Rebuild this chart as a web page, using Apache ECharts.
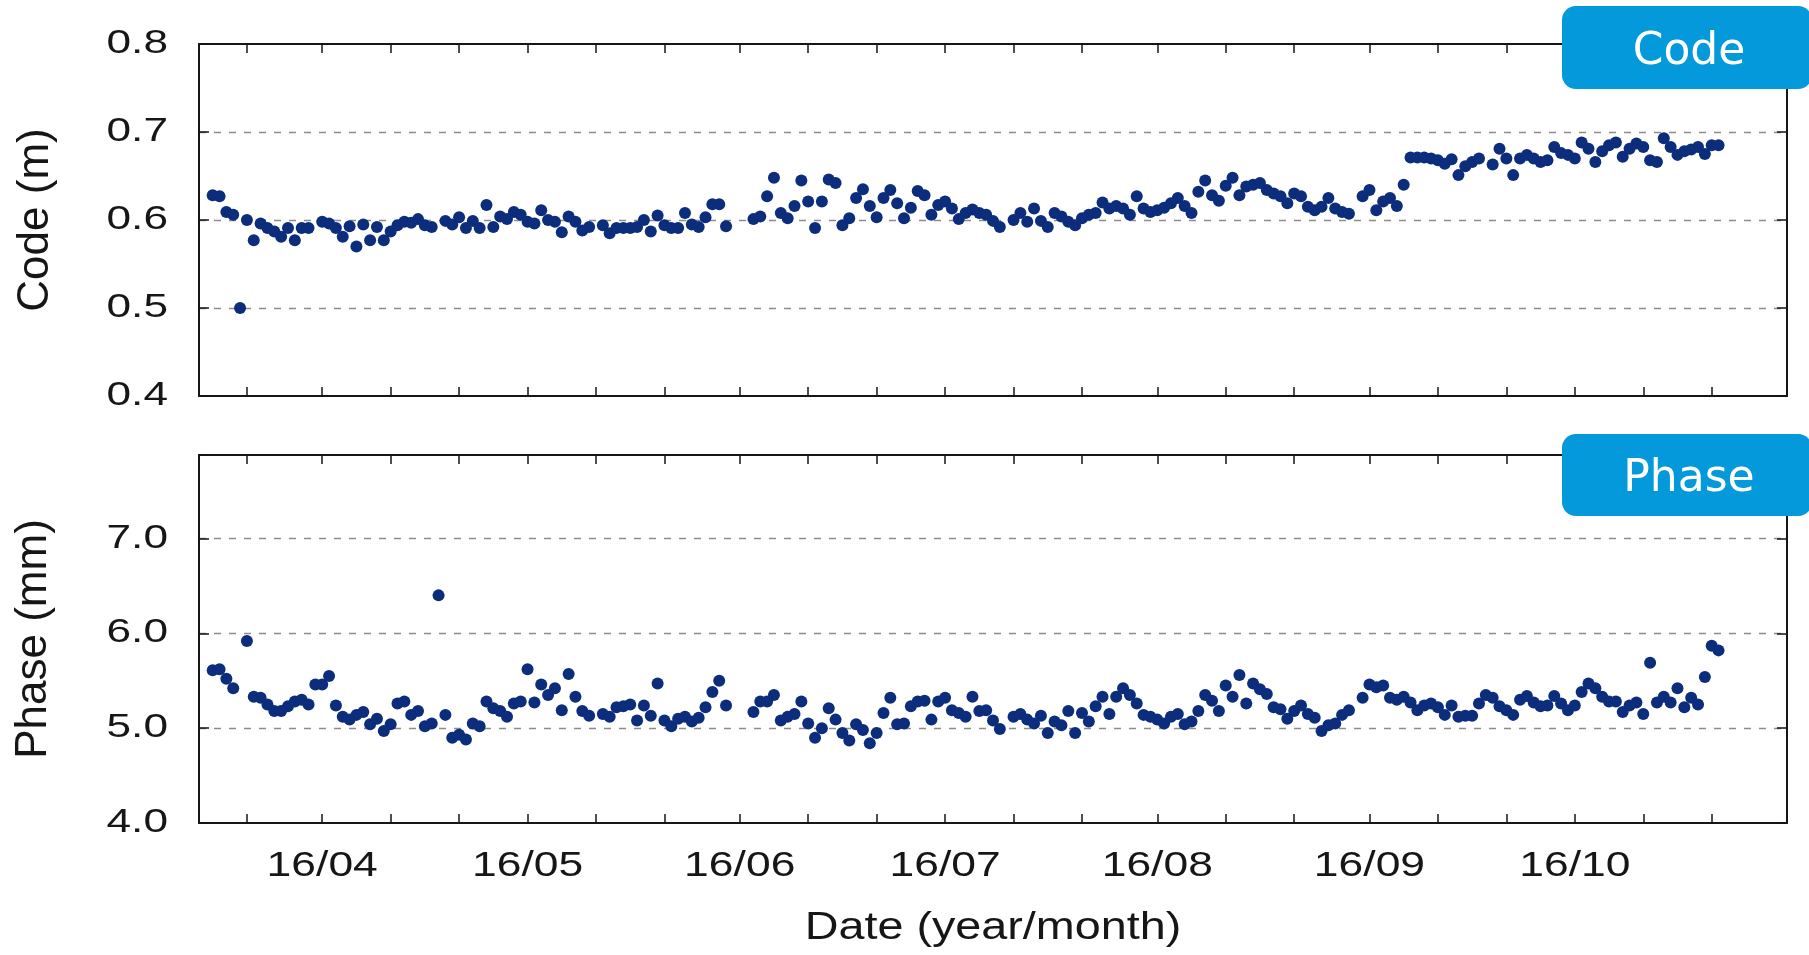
<!DOCTYPE html>
<html><head><meta charset="utf-8">
<script src="https://cdn.jsdelivr.net/npm/echarts@6/dist/echarts.min.js"></script>
<style>html,body{margin:0;padding:0;background:#fff}#c{width:1809px;height:955px}</style>
</head><body><div id="c"></div>
<script>
// ---- data (day index counted from 2016-03-14) ----
const startDate = [2016, 2, 14];
const endDate = [2016, 10, 1];
const codeDays = [2,3,4,5,6,7,8,9,10,11,12,13,14,15,16,18,19,20,21,22,23,24,25,26,27,28,29,30,31,32,33,34,36,37,38,39,40,41,42,43,44,45,46,47,48,49,50,51,52,53,54,55,56,57,59,60,61,62,63,64,65,66,67,68,69,70,71,72,73,74,75,76,77,81,82,83,84,85,86,87,88,89,90,91,92,93,94,95,96,97,98,99,100,101,102,103,104,105,106,107,108,109,110,111,112,113,114,115,116,117,119,120,121,122,123,124,125,126,127,128,129,130,131,132,133,134,135,136,137,138,139,140,141,142,143,144,145,146,147,148,149,150,151,152,153,154,155,156,157,158,159,160,161,162,163,164,165,166,167,168,170,171,172,173,174,175,176,177,178,179,180,181,182,183,184,185,186,187,189,190,191,192,193,194,195,196,197,198,199,200,201,202,203,204,205,206,207,208,209,210,211,212,213,214,215,216,217,218,219,220,221,222];
const codeValues = [0.628,0.627,0.609,0.606,0.500,0.600,0.577,0.596,0.591,0.587,0.581,0.591,0.577,0.591,0.591,0.598,0.596,0.591,0.581,0.593,0.570,0.595,0.577,0.592,0.577,0.587,0.594,0.598,0.597,0.601,0.594,0.592,0.599,0.595,0.603,0.591,0.599,0.591,0.617,0.592,0.604,0.601,0.609,0.606,0.598,0.596,0.611,0.600,0.598,0.586,0.604,0.598,0.588,0.592,0.594,0.585,0.591,0.591,0.591,0.592,0.600,0.587,0.605,0.594,0.591,0.591,0.608,0.595,0.592,0.603,0.618,0.618,0.593,0.601,0.604,0.627,0.648,0.608,0.602,0.616,0.645,0.621,0.591,0.621,0.646,0.642,0.594,0.602,0.625,0.635,0.616,0.603,0.625,0.634,0.619,0.602,0.614,0.633,0.628,0.606,0.617,0.621,0.613,0.601,0.608,0.612,0.608,0.606,0.599,0.592,0.600,0.608,0.598,0.613,0.599,0.592,0.608,0.604,0.598,0.594,0.602,0.606,0.608,0.620,0.613,0.616,0.613,0.606,0.627,0.613,0.609,0.611,0.614,0.619,0.625,0.616,0.608,0.632,0.645,0.628,0.622,0.639,0.648,0.628,0.638,0.640,0.642,0.634,0.630,0.627,0.619,0.630,0.627,0.615,0.611,0.615,0.625,0.613,0.609,0.607,0.627,0.634,0.611,0.621,0.625,0.616,0.640,0.671,0.671,0.671,0.670,0.668,0.664,0.669,0.651,0.661,0.666,0.670,0.663,0.681,0.670,0.651,0.670,0.674,0.670,0.666,0.668,0.683,0.676,0.674,0.670,0.688,0.681,0.666,0.678,0.685,0.688,0.672,0.681,0.687,0.683,0.668,0.666,0.693,0.683,0.674,0.678,0.680,0.683,0.675,0.685,0.685];
const phaseDays = [2,3,4,5,7,8,9,10,11,12,13,14,15,16,17,18,19,20,21,22,23,24,25,26,27,28,29,30,31,32,33,34,35,36,37,38,39,40,41,42,43,44,45,46,47,48,49,50,51,52,53,54,55,56,57,59,60,61,62,63,64,65,66,67,68,69,70,71,72,73,74,75,76,77,81,82,83,84,85,86,87,88,89,90,91,92,93,94,95,96,97,98,99,100,101,102,103,104,105,106,107,108,109,110,111,112,113,114,115,116,117,119,120,121,122,123,124,125,126,127,128,129,130,131,132,133,134,135,136,137,138,139,140,141,142,143,144,145,146,147,148,149,150,151,152,153,154,155,156,157,158,159,160,161,162,163,164,165,166,167,168,170,171,172,173,174,175,176,177,178,179,180,181,182,183,184,185,186,187,188,189,190,191,192,193,194,195,196,197,198,199,200,201,202,203,204,205,206,207,208,209,210,211,212,213,214,215,216,217,218,219,220,221,222];
const phaseValues = [5.61,5.62,5.52,5.42,5.92,5.33,5.32,5.25,5.18,5.18,5.23,5.28,5.30,5.25,5.46,5.46,5.55,5.24,5.12,5.09,5.14,5.17,5.04,5.10,4.97,5.04,5.26,5.28,5.14,5.18,5.02,5.05,6.40,5.14,4.90,4.93,4.88,5.05,5.02,5.28,5.21,5.18,5.12,5.26,5.28,5.62,5.27,5.46,5.35,5.42,5.19,5.57,5.33,5.18,5.13,5.15,5.12,5.22,5.23,5.25,5.08,5.24,5.13,5.47,5.08,5.02,5.10,5.12,5.07,5.11,5.22,5.38,5.50,5.24,5.17,5.28,5.28,5.35,5.08,5.12,5.15,5.28,5.05,4.90,5.00,5.21,5.09,4.95,4.87,5.04,4.98,4.84,4.95,5.16,5.32,5.04,5.05,5.23,5.28,5.29,5.09,5.28,5.32,5.19,5.16,5.12,5.33,5.18,5.19,5.08,4.99,5.12,5.15,5.09,5.05,5.13,4.95,5.07,5.03,5.18,4.95,5.16,5.07,5.23,5.33,5.15,5.33,5.42,5.35,5.26,5.14,5.12,5.09,5.05,5.12,5.15,5.04,5.07,5.18,5.35,5.29,5.18,5.45,5.33,5.56,5.26,5.47,5.41,5.36,5.22,5.20,5.10,5.18,5.24,5.15,5.11,4.97,5.03,5.05,5.14,5.19,5.32,5.46,5.43,5.45,5.32,5.30,5.33,5.27,5.19,5.24,5.26,5.22,5.14,5.24,5.12,5.13,5.13,5.26,5.35,5.32,5.23,5.19,5.14,5.30,5.34,5.27,5.23,5.24,5.34,5.26,5.19,5.24,5.38,5.47,5.42,5.33,5.28,5.28,5.17,5.24,5.27,5.15,5.69,5.27,5.33,5.27,5.42,5.22,5.32,5.25,5.54,5.87,5.82];
const monthDates = ['2016-04-01','2016-05-01','2016-06-01','2016-07-01','2016-08-01','2016-09-01','2016-10-01'];
const monthLabels = ['16/04','16/05','16/06','16/07','16/08','16/09','16/10'];
const codeTicks = [0.4, 0.5, 0.6, 0.7, 0.8];
const phaseTicks = [4.0, 5.0, 6.0, 7.0];
const codeName = 'Code (m)';
const phaseName = 'Phase (mm)';
const xName = 'Date (year/month)';
const panelTags = ['Code', 'Phase'];

// ---- build category list of all days ----
function buildDates() {
  const out = [];
  let t = Date.UTC(startDate[0], startDate[1], startDate[2]);
  const e = Date.UTC(endDate[0], endDate[1], endDate[2]);
  while (t <= e) { out.push(new Date(t).toISOString().slice(0, 10)); t += 86400000; }
  return out;
}
const dates = buildDates();

const G = [
  {left: 199, top: 44, width: 1588, height: 352},
  {left: 199, top: 455, width: 1588, height: 368}
];
const INK = '#161616';
const DOT = '#0c2c7c';
const tickFn = (i, v) => { const dd = +String(v).slice(8, 10); return dd === 1 || dd === 11 || dd === 21; };

function xAx(grid, pos) {
  return {
    type: 'category', gridIndex: grid, position: pos, data: dates, boundaryGap: false,
    axisLine: {show: true, onZero: false, lineStyle: {color: INK, width: 2}},
    axisTick: {show: true, inside: true, length: 9, interval: tickFn, lineStyle: {color: INK, width: 1.5}},
    axisLabel: {show: false}, splitLine: {show: false}
  };
}
function yAx(grid, pos, min, max, interval, split) {
  return {
    type: 'value', gridIndex: grid, position: pos, min: min, max: max, interval: interval,
    axisLine: {show: true, onZero: false, lineStyle: {color: INK, width: 2}},
    axisTick: {show: true, inside: true, length: 10, lineStyle: {color: INK, width: 1.5}},
    axisLabel: {show: false},
    splitLine: {show: split, showMinLine: false, showMaxLine: false,
      lineStyle: {color: '#8c8c8c', width: 1.3, type: [7, 8]}}
  };
}

const chart = echarts.init(document.getElementById('c'), null, {renderer: 'canvas'});
chart.setOption({
  backgroundColor: '#ffffff',
  animation: false,
  grid: G,
  xAxis: [xAx(0, 'bottom'), xAx(0, 'top'), xAx(1, 'bottom'), xAx(1, 'top')],
  yAxis: [yAx(0, 'left', 0.4, 0.8, 0.1, true), yAx(0, 'right', 0.4, 0.8, 0.1, false),
          yAx(1, 'left', 4, 7.88, 1, true), yAx(1, 'right', 4, 7.88, 1, false)],
  series: [
    {type: 'scatter', xAxisIndex: 0, yAxisIndex: 0, symbolSize: 12, itemStyle: {color: DOT, opacity: 1},
     data: codeDays.map((d, i) => [d, codeValues[i]])},
    {type: 'scatter', xAxisIndex: 2, yAxisIndex: 2, symbolSize: 12, itemStyle: {color: DOT, opacity: 1},
     data: phaseDays.map((d, i) => [d, phaseValues[i]])}
  ]
});

// ---- texts placed from the axes' own scales ----
function txt(text, x, y, o) {
  return Object.assign({
    type: 'text', x: x, y: y, silent: true, z: 100,
    style: {text: text, fontSize: o.size, fontFamily: o.family || '"Liberation Sans", Arial, sans-serif',
      fill: o.fill || INK, align: o.align || 'center', verticalAlign: 'middle',
      textAlign: o.align || 'center', textVerticalAlign: 'middle'}
  }, o.extra || {});
}
const gfx = [];
codeTicks.forEach(v => {
  const y = chart.convertToPixel({yAxisIndex: 0}, v);
  gfx.push(txt(v.toFixed(1), G[0].left - 31, y, {size: 33, align: 'right', extra: {scaleX: 1.34}}));
});
phaseTicks.forEach(v => {
  const y = chart.convertToPixel({yAxisIndex: 2}, v);
  gfx.push(txt(v.toFixed(1), G[1].left - 31, y, {size: 33, align: 'right', extra: {scaleX: 1.34}}));
});
monthDates.forEach((d, i) => {
  const x = chart.convertToPixel({xAxisIndex: 2}, dates.indexOf(d));
  gfx.push(txt(monthLabels[i], x, G[1].top + G[1].height + 43, {size: 35, extra: {scaleX: 1.27}}));
});
gfx.push(txt(xName, G[1].left + G[1].width / 2, 929, {size: 38, extra: {scaleX: 1.23}}));
gfx.push(txt(codeName, 36, G[0].top + G[0].height / 2, {size: 44, extra: {rotation: Math.PI / 2}}));
gfx.push(txt(phaseName, 34, G[1].top + G[1].height / 2, {size: 44, extra: {rotation: Math.PI / 2}}));
// tag boxes
[[6, 83], [434, 82]].forEach((b, i) => {
  gfx.push({type: 'rect', z: 110, silent: true, shape: {x: 1562, y: b[0], width: 250, height: b[1], r: 14},
    style: {fill: '#0399db'}});
  gfx.push(Object.assign(txt(panelTags[i], 1689, b[0] + b[1] / 2 + 5, {size: 44, fill: '#ffffff',
    family: '"DejaVu Sans", Verdana, sans-serif'}), {z: 120}));
});
chart.setOption({graphic: {elements: gfx}});
</script>
</body></html>
